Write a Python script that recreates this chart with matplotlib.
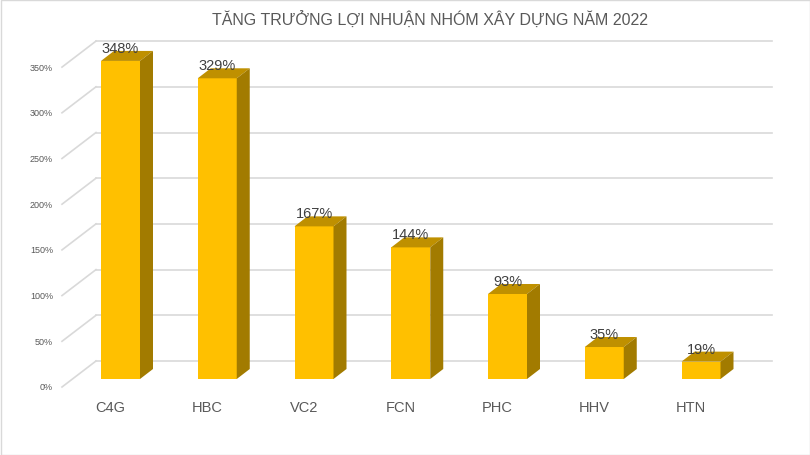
import matplotlib
matplotlib.use('Agg')
import matplotlib.pyplot as plt
import matplotlib.transforms as mtransforms
from matplotlib.patches import Polygon, Rectangle
import numpy as np

plt.rcParams['font.family'] = ['Liberation Sans', 'DejaVu Sans']

title = 'TĂNG TRƯỞNG LỢI NHUẬN NHÓM XÂY DỰNG NĂM 2022'
categories = ['C4G', 'HBC', 'VC2', 'FCN', 'PHC', 'HHV', 'HTN']
growth = [348, 329, 167, 144, 93, 35, 19]
grid_values = [0, 50, 100, 150, 200, 250, 300, 350]

W, H = 810, 456
fig = plt.figure(figsize=(W / 100, H / 100), dpi=100)
ax = fig.add_axes([0, 0, 1, 1])
ax.axis('off')

# pixel layout: bar centers 120.5 + 96.75*i, 0% front at y=380 px from top, 0.914 px per %
step = 96.75
x0 = 120.5
ppv = 0.914
base = H - 380
ax.set_xlim(-x0 / step, (W - x0) / step)
ax.set_ylim(-base / ppv, (H - base) / ppv)

front_wall = mtransforms.offset_copy(ax.transData, fig=fig, x=0, y=-8, units='dots')
back_wall = mtransforms.offset_copy(ax.transData, fig=fig, x=34, y=18, units='dots')

wall_x = (62 - x0) / step
wall_end = (772 - 34 - x0) / step
grid_col = '#D9D9D9'
for v in grid_values:
    # back wall gridline
    ax.plot([wall_x, wall_end], [v, v], color=grid_col, lw=1.2, transform=back_wall)
    # side wall diagonal
    p1 = front_wall.transform((wall_x, v))
    p2 = back_wall.transform((wall_x, v))
    ax.plot([p1[0], p2[0]], [p1[1], p2[1]], color=grid_col, lw=1.2, transform=None)
    ax.text((53 - x0) / step, v, f'{v}%', transform=front_wall, ha='right', va='center',
            fontsize=6.5, color='#595959')

x = np.arange(len(categories))
bw = 39 / step
dx, dy = 13, 10
bars = ax.bar(x, growth, width=bw, color='#FFC000', zorder=3)
lab = mtransforms.offset_copy(ax.transData, fig=fig, x=0, y=9, units='dots')
cat = mtransforms.offset_copy(ax.transData, fig=fig, x=-10, y=-28, units='dots')
for xi, v in zip(x, growth):
    fl = ax.transData.transform((xi - bw / 2, v))
    fr = ax.transData.transform((xi + bw / 2, v))
    br = ax.transData.transform((xi + bw / 2, 0))
    top = Polygon([fl, fr, fr + [dx, dy], fl + [dx, dy]], closed=True, transform=None,
                  facecolor='#BF9000', edgecolor='none', zorder=3)
    side = Polygon([br, fr, fr + [dx, dy], br + [dx, dy]], closed=True, transform=None,
                   facecolor='#A27B00', edgecolor='none', zorder=3)
    ax.add_patch(top)
    ax.add_patch(side)
    ax.text(xi, v, f'{v}%', transform=lab, ha='center', va='baseline',
            fontsize=10.5, color='#404040', zorder=4)
    ax.text(xi, 0, categories[xi], transform=cat, ha='center', va='center',
            fontsize=10.5, color='#595959')

fig.text(430 / W, 1 - 20 / H, title, ha='center', va='center', fontsize=11.5, color='#595959')
fig.patches.append(Rectangle((0.5 / W, 0.5 / H), 1 - 1 / W, 1 - 1 / H, transform=fig.transFigure,
                             fill=False, edgecolor='#D9D9D9', lw=1))

fig.savefig('out.png', dpi=100, facecolor='white')
